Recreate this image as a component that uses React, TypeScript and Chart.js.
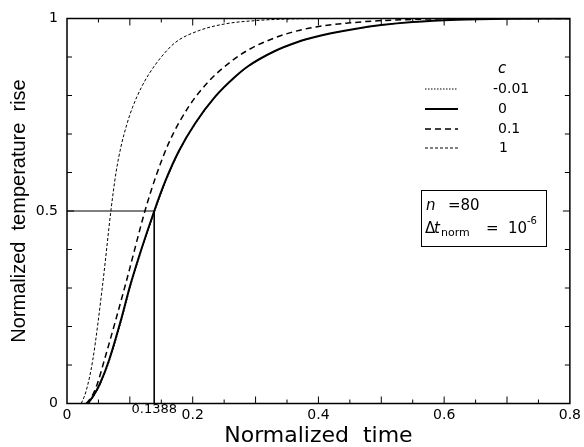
import React, { useEffect, useRef } from 'react';
import { Chart, registerables } from 'chart.js';

Chart.register(...registerables);

// c = 1 (leftmost, short dashes)
const tC1 = [0.0227, 0.03, 0.041, 0.057, 0.07, 0.078, 0.086, 0.095, 0.104, 0.118, 0.1305, 0.15, 0.1726, 0.209, 0.2515, 0.304, 0.36, 0.45, 0.8];
const vC1 = [0, 0.03, 0.113, 0.313, 0.503, 0.6, 0.668, 0.724, 0.768, 0.82, 0.856, 0.9, 0.938, 0.968, 0.986, 0.995, 0.999, 1, 1];

// c = 0.1 (dashed)
const tC01 = [0.0306, 0.04, 0.048, 0.0595, 0.0937, 0.124, 0.141, 0.162, 0.1936, 0.225, 0.2567, 0.288, 0.32, 0.357, 0.396, 0.446, 0.5, 0.56, 0.65, 0.8];
const vC01 = [0, 0.02, 0.05, 0.113, 0.313, 0.5, 0.588, 0.677, 0.771, 0.836, 0.883, 0.918, 0.943, 0.964, 0.978, 0.988, 0.9945, 0.998, 1, 1];

// c = 0 (solid)
const tC0 = [0.033, 0.042, 0.052, 0.067, 0.085, 0.1016, 0.1388, 0.157, 0.178, 0.204, 0.2357, 0.267, 0.288, 0.33, 0.367, 0.396, 0.42, 0.46, 0.5, 0.55, 0.62, 0.7, 0.8];
const vC0 = [0, 0.02, 0.05, 0.113, 0.212, 0.313, 0.5, 0.58, 0.656, 0.728, 0.797, 0.848, 0.876, 0.915, 0.939, 0.9525, 0.9615, 0.9735, 0.983, 0.991, 0.997, 0.9995, 1];

// c = -0.01 (dotted, nearly coincident with c = 0)
const tCm = [0.034, 0.043, 0.053, 0.068, 0.086, 0.1026, 0.1398, 0.158, 0.179, 0.205, 0.2367, 0.268, 0.289, 0.331, 0.368, 0.397, 0.421, 0.461, 0.501, 0.551, 0.621, 0.701, 0.8];
const vCm = [0, 0.02, 0.05, 0.113, 0.212, 0.313, 0.5, 0.58, 0.656, 0.728, 0.797, 0.848, 0.876, 0.915, 0.939, 0.9525, 0.9615, 0.9735, 0.983, 0.991, 0.997, 0.9995, 1];

const markT = 0.1388;
const markV = 0.5;

const xTickValues = [0, 0.2, 0.4, 0.6, 0.8];
const yTickValues = [0, 0.5, 1];

const legendTitle = 'c';
const legendLabels = ['-0.01', '0', '0.1', '1'];

const pts = (t: number[], v: number[]) => t.map((tt, i) => ({ x: tt, y: v[i] }));

const DASH_M = [1.5, 1.5];
const DASH_0: number[] = [];
const DASH_01 = [6, 4];
const DASH_1 = [3, 2];

const decor = {
  id: 'decor',
  afterDatasetsDraw(chart: any) {
    const { ctx, chartArea: a, scales } = chart;
    const x = scales.x;
    const y = scales.y;
    const line = (x1: number, y1: number, x2: number, y2: number) => {
      ctx.beginPath();
      ctx.moveTo(x1, y1);
      ctx.lineTo(x2, y2);
      ctx.stroke();
    };
    ctx.save();
    ctx.strokeStyle = '#000';
    ctx.fillStyle = '#000';
    ctx.setLineDash([]);
    // frame
    ctx.lineWidth = 1.5;
    ctx.strokeRect(a.left, a.top, a.right - a.left, a.bottom - a.top);
    // inward ticks
    ctx.lineWidth = 1;
    for (let i = 1; i < 16; i++) {
      const px = x.getPixelForValue(i * 0.05);
      const len = i % 2 === 0 ? 7 : 4;
      line(px, a.bottom, px, a.bottom - len);
      line(px, a.top, px, a.top + len);
    }
    for (let i = 1; i < 10; i++) {
      const py = y.getPixelForValue(i * 0.1);
      const len = i === 5 ? 7 : 5;
      line(a.left, py, a.left + len, py);
      line(a.right, py, a.right - len, py);
    }
    // 0.1388 label
    ctx.font = '13px "DejaVu Sans"';
    ctx.textAlign = 'center';
    ctx.textBaseline = 'middle';
    ctx.fillText(String(markT), x.getPixelForValue(markT), a.bottom + 6);

    // legend
    ctx.textAlign = 'left';
    ctx.font = 'italic 15px "DejaVu Sans"';
    ctx.fillText(legendTitle, 498, 69);
    const dashes = [DASH_M, DASH_0, DASH_01, DASH_1];
    const widths = [1, 2, 1.5, 1];
    const ys = [89, 109, 129, 148];
    const lx = [493, 498, 498, 499];
    ctx.font = '14px "DejaVu Sans"';
    for (let i = 0; i < 4; i++) {
      ctx.setLineDash(dashes[i]);
      ctx.lineWidth = widths[i];
      line(425, ys[i], 458, ys[i]);
      ctx.fillText(legendLabels[i], lx[i], ys[i]);
    }
    ctx.setLineDash([]);

    // parameter box
    ctx.lineWidth = 1;
    ctx.strokeRect(421.5, 190.5, 125, 56);
    ctx.font = 'italic 15px "DejaVu Sans"';
    ctx.fillText('n', 426, 206);
    ctx.font = '15px "DejaVu Sans"';
    ctx.fillText('=80', 448, 206);
    ctx.fillText('\u0394', 425, 229);
    ctx.font = 'italic 15px "DejaVu Sans"';
    ctx.fillText('t', 434, 229);
    ctx.font = '11px "DejaVu Sans"';
    ctx.fillText('norm', 441, 233);
    ctx.font = '15px "DejaVu Sans"';
    ctx.fillText('=', 486, 229);
    ctx.fillText('10', 508, 229);
    ctx.font = '10px "DejaVu Sans"';
    ctx.fillText('-6', 527, 221);
    ctx.restore();
  },
};

export default function App() {
  const ref = useRef<HTMLCanvasElement>(null);
  useEffect(() => {
    document.body.style.margin = '0';
    const canvas = ref.current!;
    const chart = new Chart(canvas, {
      type: 'line',
      data: {
        datasets: [
          {
            label: '-0.01',
            data: pts(tCm, vCm),
            borderColor: '#000',
            borderWidth: 1,
            borderDash: DASH_M,
            pointRadius: 0,
            cubicInterpolationMode: 'monotone',
          },
          {
            label: '0',
            data: pts(tC0, vC0),
            borderColor: '#000',
            borderWidth: 2,
            borderDash: DASH_0,
            pointRadius: 0,
            cubicInterpolationMode: 'monotone',
          },
          {
            label: '0.1',
            data: pts(tC01, vC01),
            borderColor: '#000',
            borderWidth: 1.5,
            borderDash: DASH_01,
            pointRadius: 0,
            cubicInterpolationMode: 'monotone',
          },
          {
            label: '1',
            data: pts(tC1, vC1),
            borderColor: '#000',
            borderWidth: 1,
            borderDash: DASH_1,
            pointRadius: 0,
            cubicInterpolationMode: 'monotone',
          },
          {
            label: 'mark',
            data: [
              { x: 0, y: markV },
              { x: markT, y: markV },
              { x: markT, y: 0 },
            ],
            borderColor: '#000',
            borderWidth: 1,
            pointRadius: 0,
            tension: 0,
          },
        ],
      },
      options: {
        responsive: false,
        animation: false,
        devicePixelRatio: 1,
        layout: { padding: { left: 0, right: 10, top: 18.5, bottom: 0 } },
        plugins: { legend: { display: false }, tooltip: { enabled: false } },
        scales: {
          x: {
            type: 'linear',
            min: 0,
            max: 0.8,
            grid: { display: false, drawTicks: false },
            border: { display: false },
            afterFit: (s: any) => {
              s.height = 43.5;
            },
            afterBuildTicks: (s: any) => {
              s.ticks = xTickValues.map((v) => ({ value: v }));
            },
            ticks: {
              autoSkip: false,
              maxRotation: 0,
              padding: 3,
              color: '#000',
              font: { family: 'DejaVu Sans', size: 14 },
              callback: (v: any) => String(v),
            },
            title: {
              display: true,
              text: 'Normalized  time',
              color: '#000',
              padding: 0,
              font: { family: 'DejaVu Sans', size: 22, lineHeight: 1 },
            },
          },
          y: {
            type: 'linear',
            min: 0,
            max: 1,
            grid: { display: false, drawTicks: false },
            border: { display: false },
            afterFit: (s: any) => {
              s.width = 67;
            },
            afterBuildTicks: (s: any) => {
              s.ticks = yTickValues.map((v) => ({ value: v }));
            },
            ticks: {
              autoSkip: false,
              padding: 9,
              color: '#000',
              font: { family: 'DejaVu Sans', size: 14 },
              callback: (v: any) => String(v),
            },
            title: {
              display: true,
              text: 'Normalized  temperature  rise',
              color: '#000',
              padding: { top: 9, bottom: 0 },
              font: { family: 'Liberation Sans', size: 20, lineHeight: 1 },
            },
          },
        },
      },
      plugins: [decor],
    } as any);
    return () => chart.destroy();
  }, []);
  return (
    <div style={{ width: 584, height: 447, background: '#fff' }}>
      <canvas ref={ref} width={584} height={447} style={{ display: 'block' }} />
    </div>
  );
}
